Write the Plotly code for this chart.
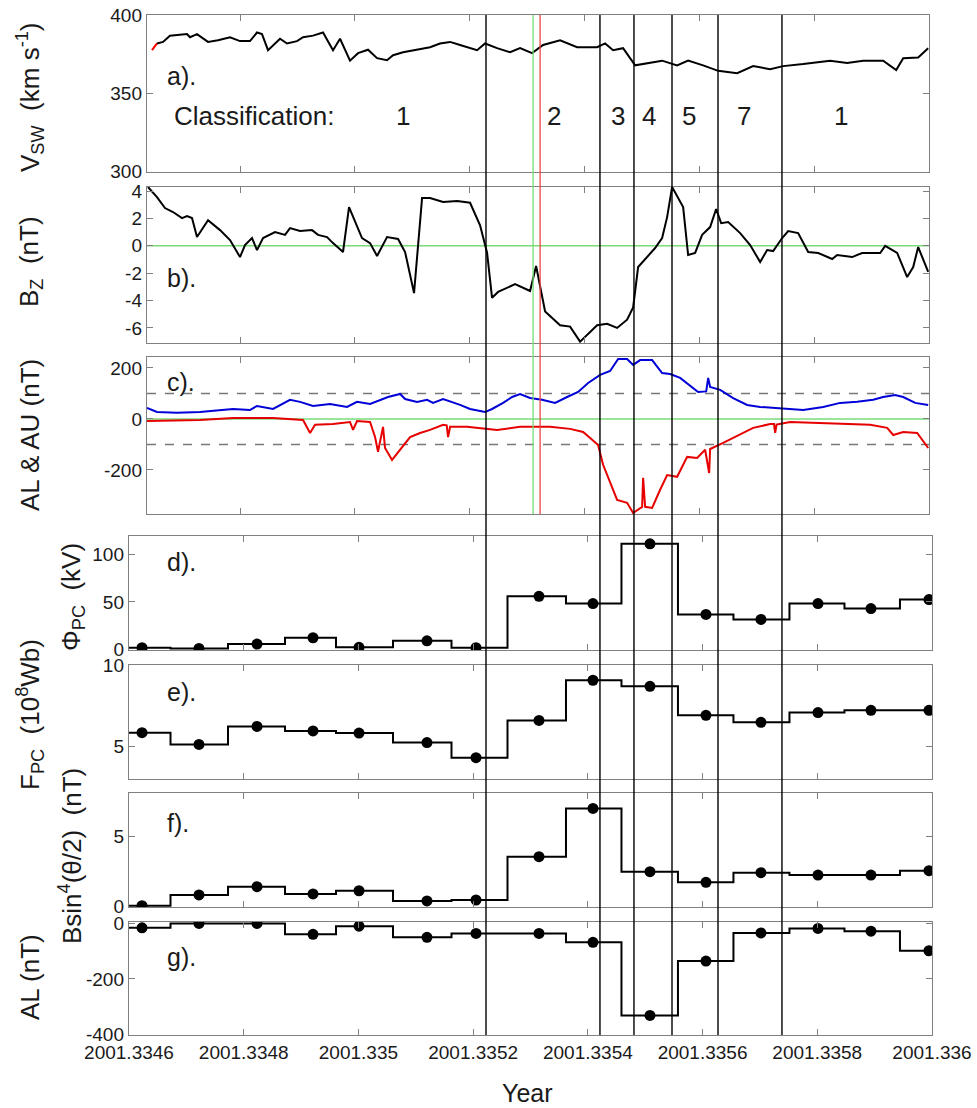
import plotly.graph_objects as go

# ---------------- data (time offsets in units of 1e-4 yr from 2001.3346) ----------------
YEAR0 = 2001.3346

VSW_RED_T = [0.467, 0.554]
VSW_RED = [377.7, 382]
VSW_T = [0.554,0.659,0.780,1.077,1.129,1.251,1.443,1.617,1.826,2.000,2.174,2.296,2.383,2.488,2.697,2.819,2.993,3.098,3.272,3.446,
         3.620,3.742,3.916,4.056,4.230,4.387,4.561,4.666,4.840,5.084,5.310,5.484,5.659,5.833,6.007,6.129,6.268,6.477,6.704,6.878,
         7.087,7.279,7.575,7.871,8.220,8.359,8.498,8.672,8.882,9.091,9.352,9.613,9.805,10.066,10.328,10.659,10.937,11.233,11.460,11.808,
         12.279,12.575,12.854,13.202,13.429,13.551,13.812,13.986]
VSW = [382,383,387,388,386,388,383,384,386,383.5,383.5,389,388,377.7,385,382,383.5,386,387,389,
       377.7,385,371,375.8,378,372.6,371.3,374.5,376.4,378,379.6,382,383,381,379,377.7,382,379,376.4,379,
       375.8,381,384,379.6,379.6,382,377.7,379,368,369.5,371,368,371,368,364.5,363,367.5,365.6,367.5,368.8,
       371,369.5,371,371,365,372.6,373,379]

BZ_T = [0.397,0.554,0.693,0.833,0.990,1.077,1.164,1.251,1.443,1.652,
        1.826,2.000,2.087,2.209,2.296,2.401,2.610,2.784,2.871,3.045,
        3.254,3.359,3.516,3.620,3.794,3.899,4.125,4.265,4.387,4.561,
        4.753,4.875,5.031,5.171,5.310,5.537,5.781,6.007,6.181,6.303,
        6.390,6.495,6.791,7.052,7.157,7.314,7.575,7.749,7.923,8.098,
        8.220,8.394,8.568,8.742,8.847,8.934,9.091,9.230,9.352,9.439,
        9.526,9.718,9.805,9.927,10.049,10.188,10.293,10.380,10.502,10.711,
        10.885,11.059,11.181,11.286,11.443,11.547,11.721,11.896,12.070,12.314,
        12.401,12.662,12.836,13.150,13.237,13.446,13.620,13.725,13.812,13.986]
BZ = [4.3,3.56,2.76,2.47,2.03,2.18,2.03,0.64,1.88,1.15,
      0.42,-0.82,0.06,0.57,-0.31,0.57,1.0,0.8,1.3,1.08,
      1.15,0.8,0.64,0.2,-0.45,2.83,0.57,0.2,-0.74,0.64,
      0.5,-0.45,-3.45,3.49,3.49,3.2,3.27,3.15,1.5,-0.5,
      -3.8,-3.37,-2.8,-3.3,-1.47,-4.8,-5.8,-5.9,-7.0,-6.3,
      -5.8,-5.7,-6.0,-5.4,-4.5,-1.55,-0.82,-0.16,0.57,2.1,
      4.3,2.83,-0.67,-0.52,0.8,1.37,2.69,1.66,1.74,0.93,
      0.06,-1.18,-0.31,-0.38,0.57,1.08,0.93,-0.45,-0.52,-0.96,
      -0.67,-0.82,-0.52,-0.52,0.0,-0.52,-2.28,-1.55,-0.09,-1.9]

AU_T = [0.380,0.554,0.902,1.303,1.878,2.174,2.296,2.575,2.871,3.045,
        3.272,3.568,3.864,4.038,4.265,4.491,4.578,4.788,4.875,5.084,
        5.258,5.362,5.537,5.833,6.007,6.268,6.390,6.582,6.739,6.878,
        7.052,7.261,7.488,7.697,7.889,8.063,8.272,8.446,8.586,8.742,
        8.847,8.969,9.178,9.352,9.491,9.666,9.840,9.979,10.120,10.154,
        10.188,10.363,10.589,10.833,11.059,11.321,11.582,11.809,12.157,12.453,
        12.749,13.028,13.202,13.411,13.551,13.760,13.986]
AU = [43,27,24,27,39,35,51,39,75,67,
      51,59,47,67,59,78,86,98,78,67,
      75,63,78,55,39,27,39,63,86,98,
      82,75,63,86,106,141,173,188,235,235,
      212,231,231,180,176,161,129,106,108,161,
      125,114,82,55,47,43,39,35,47,63,
      67,75,86,94,86,63,55]

AL_T = [0.380,1.303,1.878,2.575,3.098,3.220,3.307,3.620,3.916,3.969,
        4.038,4.265,4.352,4.404,4.491,4.526,4.648,4.788,4.962,5.136,
        5.310,5.537,5.600,5.624,5.659,5.955,6.477,6.878,7.401,7.749,
        7.976,8.133,8.237,8.324,8.446,8.568,8.742,8.847,9.004,9.021,
        9.056,9.178,9.317,9.439,9.613,9.788,9.962,10.101,10.171,10.188,
        10.415,10.659,10.937,11.233,11.300,11.321,11.345,11.582,12.105,12.976,
        13.272,13.377,13.551,13.795,13.986]
AL = [-8,-4,4,4,-4,-55,-23,-20,-12,-43,
      -8,-12,-71,-129,-31,-114,-161,-121,-71,-55,
      -43,-23,-25,-71,-31,-31,-43,-31,-31,-39,
      -51,-82,-102,-180,-251,-318,-329,-369,-345,-231,
      -345,-349,-278,-220,-227,-149,-153,-121,-212,-118,
      -94,-67,-35,-20,-20,-55,-22,-12,-16,-23,
      -35,-63,-51,-55,-114]

BIN_T = [0.227,1.220,2.232,3.208,4.010,5.195,6.050,7.148,8.089,9.083,10.059,11.018,12.012,12.936,13.947]
PHI_PC = [1.4,0.7,5.3,12,1.8,8.8,1.4,56,48.3,111.7,36.7,31.4,48.3,43,52.5]
F_PC = [5.84,5.12,6.23,5.95,5.82,5.23,4.30,6.60,9.07,8.70,6.91,6.48,7.08,7.22,7.22]
BSIN4 = [0.02,0.79,1.38,0.86,1.09,0.36,0.43,3.52,6.97,2.45,1.69,2.38,2.21,2.21,2.52]
AL_MEAN = [-17,-1,-1,-40,-11,-51,-37,-37,-69,-331,-136,-35,-19,-29,-99]

BOUNDARY_T = [6.224, 8.211, 8.804, 9.467, 10.269, 11.384]
GREEN_T = 7.105
RED_T = 7.227

CLASS_LABELS = ["1", "2", "3", "4", "5", "7", "1"]
CLASS_LABEL_T = [4.840, 7.470, 8.586, 9.126, 9.823, 10.781, 12.471]

X_TICK_LABELS = ["2001.3346", "2001.3348", "2001.335", "2001.3352",
                 "2001.3354", "2001.3356", "2001.3358", "2001.336"]
Y_TICKS = [[300, 350, 400], [-6, -4, -2, 0, 2, 4], [-200, 0, 200], [0, 50, 100], [5, 10], [0, 5], [-400, -200, 0]]


def yr(offsets):
    return [YEAR0 + o * 1e-4 for o in offsets]


# ---------------- geometry ----------------
W, H = 977, 1108
FONT = "Liberation Sans, Arial, sans-serif"
TXT = "#1a1a1a"


def px(x):
    return x / W


def py(y):
    return 1 - y / H


UPPER_X = (147, 929)
LOWER_X = (129, 932)
PANEL_Y = [(15, 172), (187, 343), (357, 514), (536, 650), (665, 779), (793, 907), (922, 1035)]
Y_RANGES = [[299.8, 400.2], [-7.1, 4.3], [-373, 243], [-1, 120], [2.99, 10.01], [-0.07, 8.07], [-401, 4]]

tickvals = [float(s) for s in X_TICK_LABELS]
eps = 2e-8
upper_range = [yr([0.380])[0], yr([14.0])[0] + eps]
lower_range = [YEAR0 - eps, yr([14.0])[0] + eps]

fig = go.Figure()

axcommon = dict(showline=True, linecolor="#808080", linewidth=1.2, mirror="ticks",
                ticks="inside", ticklen=6, tickcolor="#808080", tickwidth=1,
                showgrid=False, zeroline=False, automargin=False,
                tickfont=dict(family=FONT, size=19, color=TXT))

layout = dict(template="none", width=W, height=H, margin=dict(l=0, r=0, t=0, b=0, pad=0, autoexpand=False),
              paper_bgcolor="white", plot_bgcolor="white", showlegend=False,
              font=dict(family=FONT, color=TXT))

for i in range(7):
    n = "" if i == 0 else str(i + 1)
    upper = i < 3
    xd = UPPER_X if upper else LOWER_X
    xa = dict(axcommon)
    xa.update(domain=[px(xd[0]), px(xd[1])], range=upper_range if upper else lower_range,
              tickmode="array", tickvals=tickvals, ticktext=X_TICK_LABELS,
              showticklabels=(i == 6), anchor="y" + n)
    ya = dict(axcommon)
    ya.update(domain=[py(PANEL_Y[i][1]), py(PANEL_Y[i][0])], range=Y_RANGES[i],
              tickmode="array", tickvals=Y_TICKS[i], ticktext=[str(v) for v in Y_TICKS[i]],
              anchor="x" + n)
    layout["xaxis" + n] = xa
    layout["yaxis" + n] = ya

GREEN = "rgb(120,220,120)"
REDL = "rgb(235,70,70)"

# panel a
fig.add_trace(go.Scatter(x=yr(VSW_RED_T), y=VSW_RED, mode="lines", line=dict(color="red", width=2), xaxis="x", yaxis="y"))
fig.add_trace(go.Scatter(x=yr(VSW_T), y=VSW, mode="lines", line=dict(color="black", width=2), xaxis="x", yaxis="y"))
# panel b
fig.add_trace(go.Scatter(x=yr(BZ_T), y=BZ, mode="lines", line=dict(color="black", width=2), xaxis="x2", yaxis="y2"))
# panel c
fig.add_trace(go.Scatter(x=yr(AU_T), y=AU, mode="lines", line=dict(color="rgb(0,0,215)", width=2), xaxis="x3", yaxis="y3"))
fig.add_trace(go.Scatter(x=yr(AL_T), y=AL, mode="lines", line=dict(color="rgb(230,0,0)", width=2), xaxis="x3", yaxis="y3"))

# step panels
for k, vals in enumerate([PHI_PC, F_PC, BSIN4, AL_MEAN]):
    n = str(k + 4)
    xs = [YEAR0] + yr(BIN_T)
    ys = [vals[0]] + vals
    fig.add_trace(go.Scatter(x=xs, y=ys, mode="lines", line=dict(color="black", width=2, shape="hvh"),
                             xaxis="x" + n, yaxis="y" + n))
    fig.add_trace(go.Scatter(x=yr(BIN_T), y=vals, mode="markers", marker=dict(color="black", size=11),
                             xaxis="x" + n, yaxis="y" + n))

shapes = []
# zero lines and dashed thresholds
for n in ["2", "3"]:
    shapes.append(dict(type="line", xref="x%s domain" % n, yref="y" + n, x0=0, x1=1, y0=0, y1=0,
                       line=dict(color=GREEN, width=1.5), layer="below"))
for lv in [100, -100]:
    shapes.append(dict(type="line", xref="x3 domain", yref="y3", x0=0, x1=1, y0=lv, y1=lv,
                       line=dict(color="#777777", width=1.5, dash="dash"), layer="below"))
# green / red markers of time
for t, c in [(GREEN_T, GREEN), (RED_T, REDL)]:
    xv = yr([t])[0]
    shapes.append(dict(type="line", xref="x", yref="paper", x0=xv, x1=xv,
                       y0=py(PANEL_Y[2][1]), y1=py(PANEL_Y[0][0]), line=dict(color=c, width=1.3)))
# classification boundaries
for t in BOUNDARY_T:
    xv = yr([t])[0]
    shapes.append(dict(type="line", xref="x7", yref="paper", x0=xv, x1=xv,
                       y0=py(PANEL_Y[6][1]), y1=py(PANEL_Y[0][0]), line=dict(color="black", width=1.4)))
layout["shapes"] = shapes

ann = []
TITLE_SIZE = 26
titles = [
    ("V<sub>SW</sub>  (km s<sup>-1</sup>)", 30, 97),
    ("B<sub>Z</sub>  (nT)", 30, 262),
    ("AL & AU (nT)", 30, 435),
    ("Φ<sub>PC</sub>  (kV)", 72, 597),
    ("F<sub>PC</sub>  (10<sup>8</sup>Wb)", 30, 715),
    ("Bsin<sup>4</sup>(θ/2)  (nT)", 70, 856),
    ("AL (nT)", 30, 977),
]
for text, x, y in titles:
    ann.append(dict(text=text, xref="paper", yref="paper", x=px(x), y=py(y), showarrow=False,
                    textangle=-90, xanchor="center", yanchor="middle",
                    font=dict(family=FONT, size=TITLE_SIZE, color=TXT)))

panel_labels = [("a).", 76), ("b).", 278), ("c).", 382), ("d).", 562), ("e).", 692), ("f).", 823), ("g).", 957)]
for text, y in panel_labels:
    ann.append(dict(text=text, xref="paper", yref="paper", x=px(165), y=py(y), showarrow=False,
                    xanchor="left", yanchor="middle", font=dict(family=FONT, size=25, color=TXT)))

ann.append(dict(text="Classification:", xref="paper", yref="paper", x=px(172), y=py(116), showarrow=False,
                xanchor="left", yanchor="middle", font=dict(family=FONT, size=26, color=TXT)))
for lab, t in zip(CLASS_LABELS, CLASS_LABEL_T):
    ann.append(dict(text=lab, xref="x", yref="paper", x=yr([t])[0], y=py(116), showarrow=False,
                    xanchor="center", yanchor="middle", font=dict(family=FONT, size=26, color=TXT)))

ann.append(dict(text="Year", xref="paper", yref="paper", x=px(527), y=py(1093), showarrow=False,
                xanchor="center", yanchor="middle", font=dict(family=FONT, size=25, color=TXT)))
layout["annotations"] = ann

fig.update_layout(**layout)
fig.write_html("out.html", config={"displayModeBar": False, "staticPlot": True},
               post_script="document.body.style.margin='0';document.body.style.overflow='hidden';")
